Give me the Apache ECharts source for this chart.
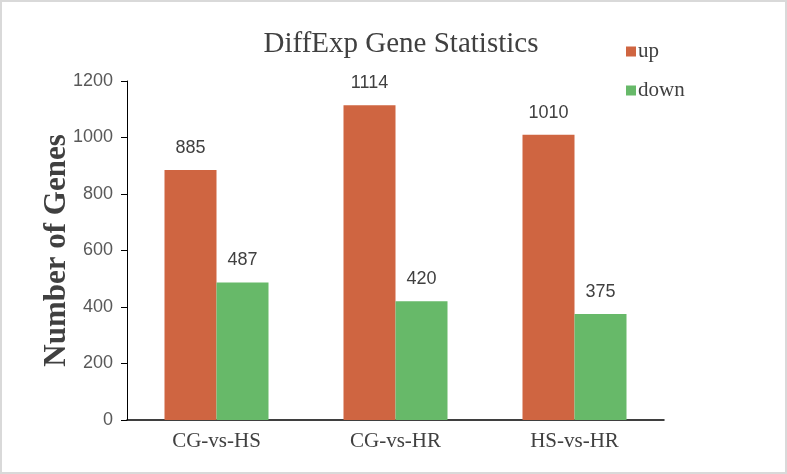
<!DOCTYPE html>
<html><head><meta charset="utf-8">
<script src="https://cdn.jsdelivr.net/npm/echarts@6/dist/echarts.min.js"></script>
<style>
html,body{margin:0;padding:0;background:#fff;}
#wrap{position:absolute;left:0;top:0;width:783px;height:470px;border:2px solid #d9d9d9;}
#c{width:783px;height:470px;}
</style></head>
<body><div id="wrap"><div id="c"></div></div>
<script>
var categories = ['CG-vs-HS', 'CG-vs-HR', 'HS-vs-HR'];
var upValues = [885, 1114, 1010];
var downValues = [487, 420, 375];
var seriesNames = ['up', 'down'];

var chart = echarts.init(document.getElementById('c'));
var labelStyle = {show: true, position: 'top', distance: 13, fontFamily: 'Liberation Sans, Arial', fontSize: 18, color: '#404040'};
chart.setOption({
  animation: false,
  title: {text: 'DiffExp Gene Statistics', left: 394, textAlign: 'center', top: 23, textStyle: {fontFamily: 'Liberation Serif, Times New Roman', fontWeight: 'normal', fontSize: 29, color: '#404040'}},
  legend: {orient: 'vertical', left: 619, top: 34, itemWidth: 10, itemHeight: 10, itemGap: 18, icon: 'rect',
    textStyle: {fontFamily: 'Liberation Serif, Times New Roman', fontSize: 21, color: '#404040', padding: [0,0,0,-3]}, data: seriesNames},
  grid: {left: 125, right: 121, top: 79, bottom: 52, containLabel: false},
  xAxis: {type: 'category', data: categories,
    axisLine: {lineStyle: {color: '#000', width: 1.5}},
    axisTick: {alignWithLabel: true, length: 6, lineStyle: {color: '#000'}},
    axisLabel: {fontFamily: 'Liberation Serif, Times New Roman', fontSize: 21, color: '#404040', margin: 11}},
  yAxis: {type: 'value', min: 0, max: 1200, interval: 200,
    name: 'Number of Genes', nameLocation: 'middle', nameGap: 55, nameMoveOverlap: false,
    nameTextStyle: {fontFamily: 'Liberation Serif, Times New Roman', fontWeight: 'bold', fontSize: 31, color: '#404040'},
    axisLine: {show: true, lineStyle: {color: '#000', width: 1}},
    axisTick: {show: true, length: 6, lineStyle: {color: '#000'}},
    splitLine: {show: false},
    axisLabel: {fontFamily: 'Liberation Sans, Arial', fontSize: 18, color: '#595959', margin: 14, formatter: function (v) { return String(v); }}},
  series: [
    {name: seriesNames[0], type: 'bar', data: upValues, barWidth: 52, barGap: '0%', itemStyle: {color: '#CF6541'}, label: labelStyle},
    {name: seriesNames[1], type: 'bar', data: downValues, barWidth: 52, itemStyle: {color: '#67B969'}, label: labelStyle}
  ]
});
</script></body></html>
